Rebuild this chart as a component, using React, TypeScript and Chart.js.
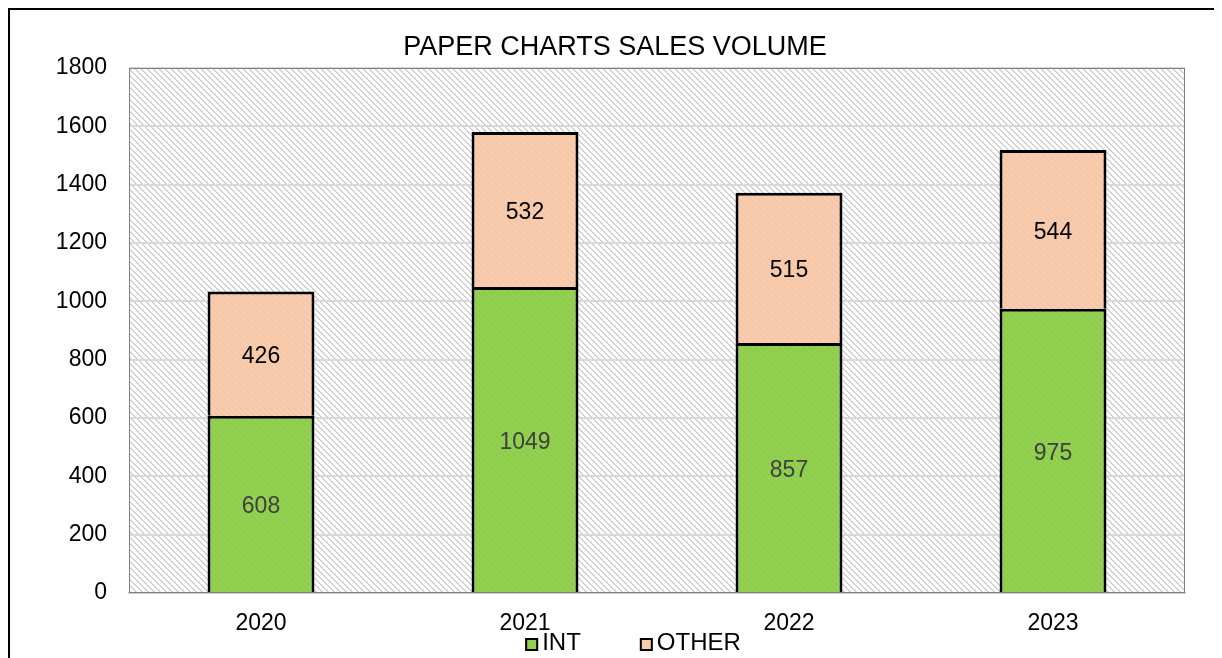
import { useEffect, useRef } from 'react';
import { Chart, registerables } from 'chart.js';

Chart.register(...registerables);

const TITLE = 'PAPER CHARTS SALES VOLUME';
const YEARS = ['2020', '2021', '2022', '2023'];
const INT_VALUES = [608, 1049, 857, 975];
const OTHER_VALUES = [426, 532, 515, 544];
const SERIES_NAMES = ['INT', 'OTHER'];
const Y_MIN = 0;
const Y_MAX = 1800;
const Y_STEP = 200;

const FONT = "'Liberation Sans', Arial, sans-serif";
const GREEN = '#92d050';
const PEACH = '#f8cbad';

function makePattern(base: string, stripe: string, light?: string): CanvasPattern | string {
  const size = 6;
  const c = document.createElement('canvas');
  c.width = size;
  c.height = size;
  const g = c.getContext('2d');
  if (!g) return base;
  g.fillStyle = base;
  g.fillRect(0, 0, size, size);
  for (let y = 0; y < size; y++) {
    for (let x = 0; x < size; x++) {
      const d = (((x - y) % size) + size) % size;
      if (d === 0) {
        g.fillStyle = stripe;
        g.fillRect(x, y, 1, 1);
      } else if (d === 1 && light) {
        g.fillStyle = light;
        g.fillRect(x, y, 1, 1);
      }
    }
  }
  return g.createPattern(c, 'repeat') || base;
}

export default function App() {
  const ref = useRef<HTMLCanvasElement | null>(null);

  useEffect(() => {
    document.documentElement.style.overflow = 'hidden';
    document.body.style.overflow = 'hidden';
    const canvas = ref.current;
    if (!canvas) return;

    const bgPattern = makePattern('#ffffff', '#c4c4c4', '#e2e2e2');
    const greenPattern = makePattern(GREEN, '#8ac647');
    const peachPattern = makePattern(PEACH, '#efc1a3');

    const plotBackground = {
      id: 'plotBackground',
      beforeDraw(chart: any) {
        const { ctx, chartArea } = chart;
        ctx.save();
        ctx.fillStyle = bgPattern;
        ctx.fillRect(chartArea.left, chartArea.top, chartArea.right - chartArea.left, chartArea.bottom - chartArea.top);
        ctx.restore();
      },
      beforeDatasetsDraw(chart: any) {
        const { ctx, chartArea } = chart;
        ctx.save();
        ctx.strokeStyle = '#7f7f7f';
        ctx.lineWidth = 1;
        ctx.strokeRect(chartArea.left + 0.5, chartArea.top + 0.5, chartArea.right - chartArea.left - 1, chartArea.bottom - chartArea.top - 1);
        ctx.restore();
      },
    };

    const valueLabels = {
      id: 'valueLabels',
      afterDatasetsDraw(chart: any) {
        const { ctx } = chart;
        ctx.save();
        ctx.font = `23px ${FONT}`;
        ctx.textAlign = 'center';
        ctx.textBaseline = 'middle';
        chart.data.datasets.forEach((ds: any, di: number) => {
          const meta = chart.getDatasetMeta(di);
          ctx.fillStyle = di === 0 ? '#404040' : '#000000';
          meta.data.forEach((bar: any, i: number) => {
            const v = ds.data[i];
            const y = (bar.y + bar.base) / 2;
            ctx.fillText(String(v), bar.x, y + 3);
          });
        });
        ctx.restore();
      },
    };

    const customLegend = {
      id: 'customLegend',
      afterDraw(chart: any) {
        const { ctx, chartArea } = chart;
        ctx.save();
        ctx.font = `24px ${FONT}`;
        const box = 13;
        const gap = 4;
        const spacing = 59;
        const colors = [GREEN, PEACH];
        const widths = SERIES_NAMES.map((n) => ctx.measureText(n).width);
        const total = widths.reduce((a, w) => a + box + gap + w, 0) + spacing * (SERIES_NAMES.length - 1);
        let x = chart.width / 2 + 19 - total / 2;
        const yText = chartArea.bottom + 50;
        const yBox = chartArea.bottom + 51.5;
        SERIES_NAMES.forEach((name, i) => {
          ctx.fillStyle = colors[i];
          ctx.fillRect(x, yBox - box / 2, box, box);
          ctx.strokeStyle = '#000000';
          ctx.lineWidth = 2;
          ctx.strokeRect(x + 1, yBox - box / 2 + 1, box - 2, box - 2);
          ctx.fillStyle = '#000000';
          ctx.textAlign = 'left';
          ctx.textBaseline = 'middle';
          ctx.fillText(name, x + box + gap, yText);
          x += box + gap + widths[i] + spacing;
        });
        ctx.restore();
      },
    };

    const chart = new Chart(canvas, {
      type: 'bar',
      data: {
        labels: YEARS,
        datasets: [
          {
            label: SERIES_NAMES[0],
            data: INT_VALUES,
            backgroundColor: greenPattern as any,
            borderColor: '#000000',
            borderWidth: 3,
            categoryPercentage: 1,
            barPercentage: 0.405,
          },
          {
            label: SERIES_NAMES[1],
            data: OTHER_VALUES,
            backgroundColor: peachPattern as any,
            borderColor: '#000000',
            borderWidth: 3,
            categoryPercentage: 1,
            barPercentage: 0.405,
          },
        ],
      },
      options: {
        animation: false,
        responsive: false,
        maintainAspectRatio: false,
        layout: { padding: { left: 35, right: 33, top: 0, bottom: 0 } },
        plugins: {
          legend: { display: false },
          tooltip: { enabled: false },
          title: {
            display: true,
            text: TITLE,
            color: '#000000',
            font: { family: FONT, size: 27, weight: 'normal' },
            padding: { top: 21, bottom: 4.6 },
          },
        },
        scales: {
          x: {
            stacked: true,
            grid: { display: false, drawTicks: false },
            border: { display: true, color: '#d0d0d0', width: 2 },
            ticks: { color: '#000000', font: { family: FONT, size: 23 }, padding: 17, maxRotation: 0 },
            afterFit(scale: any) {
              scale.height = 65;
            },
          },
          y: {
            stacked: true,
            min: Y_MIN,
            max: Y_MAX,
            ticks: {
              stepSize: Y_STEP,
              color: '#000000',
              font: { family: FONT, size: 23 },
              padding: 22,
              callback: (v: any) => String(v),
            },
            grid: { color: '#d9d9d9', lineWidth: 2, drawTicks: false },
            border: { display: false },
            afterFit(scale: any) {
              scale.width = 84;
            },
          },
        },
      },
      plugins: [plotBackground, valueLabels, customLegend],
    });

    return () => chart.destroy();
  }, []);

  return (
    <div
      style={{
        width: 1212,
        height: 650,
        boxSizing: 'border-box',
        border: '2px solid #000000',
        borderBottom: 'none',
        background: '#ffffff',
        overflow: 'hidden',
      }}
    >
      <canvas ref={ref} width={1208} height={648} style={{ display: 'block', width: 1208, height: 648 }} />
    </div>
  );
}
